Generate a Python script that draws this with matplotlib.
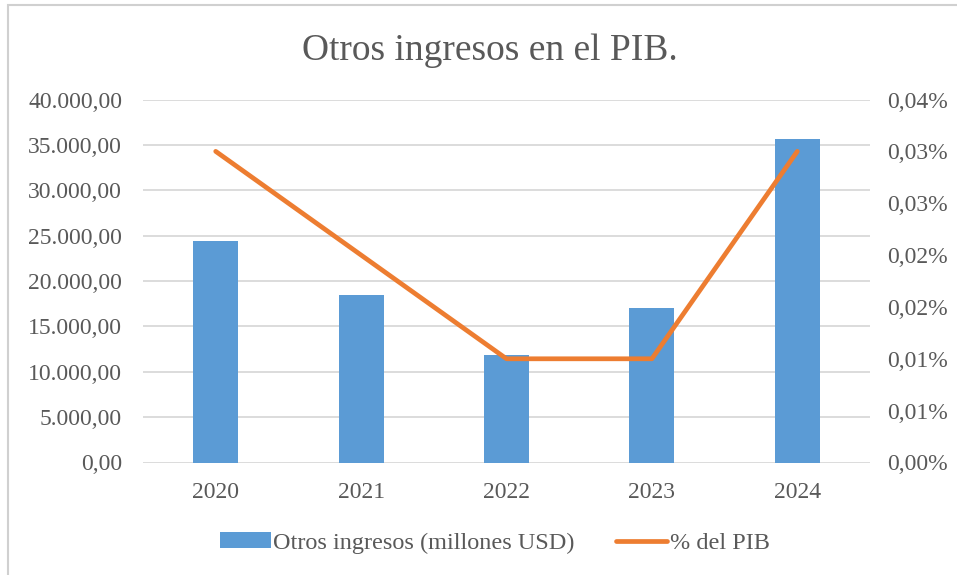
import matplotlib
matplotlib.use("Agg")
import matplotlib.pyplot as plt
from matplotlib.patches import Rectangle, Patch
from matplotlib.lines import Line2D
from matplotlib.ticker import FixedLocator, FuncFormatter
from decimal import Decimal, ROUND_HALF_UP

years = ["2020", "2021", "2022", "2023", "2024"]
otros_ingresos = [24400, 18450, 11900, 17050, 35700]   # millones USD
pct_pib = [0.03, 0.02, 0.01, 0.01, 0.03]                # % del PIB

left_ticks = [0, 5000, 10000, 15000, 20000, 25000, 30000, 35000, 40000]
right_ticks = [0, 0.005, 0.01, 0.015, 0.02, 0.025, 0.03, 0.035]

TXT = "#595959"
BAR = "#5B9BD5"
LINE = "#ED7D31"
GRID = "#D9D9D9"

plt.rcParams["font.family"] = ["Liberation Serif", "DejaVu Serif"]

fig = plt.figure(figsize=(9.57, 5.75), dpi=100)
fig.patches.append(Rectangle((8 / 957, -0.1), 1.2, 1 - 5 / 575 + 0.1,
                             transform=fig.transFigure, fill=False,
                             edgecolor="#D0D0D0", linewidth=1.5))

ax = fig.add_axes([143 / 957, 1 - 462.5 / 575, (870 - 143) / 957, (462.5 - 99.5) / 575])
x = list(range(len(years)))
ax.bar(x, otros_ingresos, width=0.31, color=BAR, zorder=3)
ax.set_xlim(-0.5, len(years) - 0.5)
ax.set_ylim(0, 40000)
ax.yaxis.set_major_locator(FixedLocator(left_ticks))


def es_num(v, dec=2):
    s = f"{v:,.{dec}f}"
    return s.replace(",", "X").replace(".", ",").replace("X", ".")


ax.yaxis.set_major_formatter(FuncFormatter(lambda v, p: es_num(v)))
ax.set_xticks(x)
ax.set_xticklabels(years)
ax.grid(axis="y", color=GRID, linewidth=1.3, zorder=0)
for s in ax.spines.values():
    s.set_visible(False)
ax.tick_params(axis="both", length=0, labelsize=17, colors=TXT)
ax.tick_params(axis="y", pad=15)
ax.tick_params(axis="x", pad=14)

ax2 = ax.twinx()
ax2.plot(x, pct_pib, color=LINE, linewidth=3.4, solid_capstyle="round",
         solid_joinstyle="round", zorder=4)
ax2.set_ylim(0, 0.035)
ax2.yaxis.set_major_locator(FixedLocator(right_ticks))


def pct_fmt(v, p):
    d = Decimal(str(round(v, 6))).quantize(Decimal("0.01"), rounding=ROUND_HALF_UP)
    return str(d).replace(".", ",") + "%"


ax2.yaxis.set_major_formatter(FuncFormatter(pct_fmt))
for s in ax2.spines.values():
    s.set_visible(False)
ax2.tick_params(axis="y", length=0, labelsize=17, colors=TXT, pad=12)

fig.text(489.5 / 957, 1 - 51 / 575, "Otros ingresos en el PIB.", ha="center", va="center",
         fontsize=27, color=TXT)

handles = [Patch(facecolor=BAR, edgecolor="none"),
           Line2D([0], [0], color=LINE, linewidth=3.4, solid_capstyle="round")]
fig.legend(handles, ["Otros ingresos (millones USD)", "% del PIB"],
           loc="center", bbox_to_anchor=(0.517, 1 - 543 / 575), ncol=2,
           frameon=False, fontsize=17.5, labelcolor=TXT, handlelength=2.1,
           handletextpad=0.1, columnspacing=1.7, handleheight=0.6)

fig.savefig("out.png", dpi=100)
